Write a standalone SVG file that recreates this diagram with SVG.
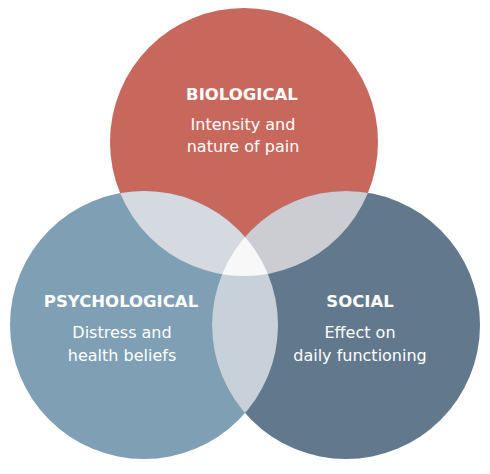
<svg xmlns="http://www.w3.org/2000/svg" width="490" height="474" viewBox="0 0 490 474">
<style>
.t{font-family:"DejaVu Sans",Verdana,sans-serif;fill:#fff;text-anchor:middle}
.h{font-weight:bold;font-size:16.5px}
.s{font-size:16px}
</style>
<defs>
<clipPath id="cT"><circle cx="244" cy="142" r="134"/></clipPath>
<clipPath id="cL"><circle cx="144" cy="325" r="134"/></clipPath>
<clipPath id="cR"><circle cx="346" cy="325" r="134"/></clipPath>
</defs>
<rect width="490" height="474" fill="#fff"/>
<g id="biological"><circle cx="244" cy="142" r="134" fill="#C8685D"/></g>
<g id="psychological"><circle cx="144" cy="325" r="134" fill="#7E9FB4"/></g>
<g id="social"><circle cx="346" cy="325" r="134" fill="#62788C"/></g>
<g id="overlaps">
<g clip-path="url(#cT)"><circle cx="144" cy="325" r="134" fill="#D5D9E0"/><circle cx="346" cy="325" r="134" fill="#CBCDD2"/></g>
<g clip-path="url(#cL)"><circle cx="346" cy="325" r="134" fill="#C8D1D9"/></g>
<g clip-path="url(#cL)"><g clip-path="url(#cR)"><circle cx="244" cy="142" r="134" fill="#F8F8F8"/></g></g>
</g>
<g id="labels">
<text class="t h" x="242" y="100">BIOLOGICAL</text>
<text class="t s" x="243" y="130">Intensity and</text>
<text class="t s" x="243" y="152">nature of pain</text>
<text class="t h" x="121" y="307">PSYCHOLOGICAL</text>
<text class="t s" x="122" y="338">Distress and</text>
<text class="t s" x="122" y="361">health beliefs</text>
<text class="t h" x="360" y="307">SOCIAL</text>
<text class="t s" x="360" y="338">Effect on</text>
<text class="t s" x="360" y="361">daily functioning</text>
</g>
</svg>
